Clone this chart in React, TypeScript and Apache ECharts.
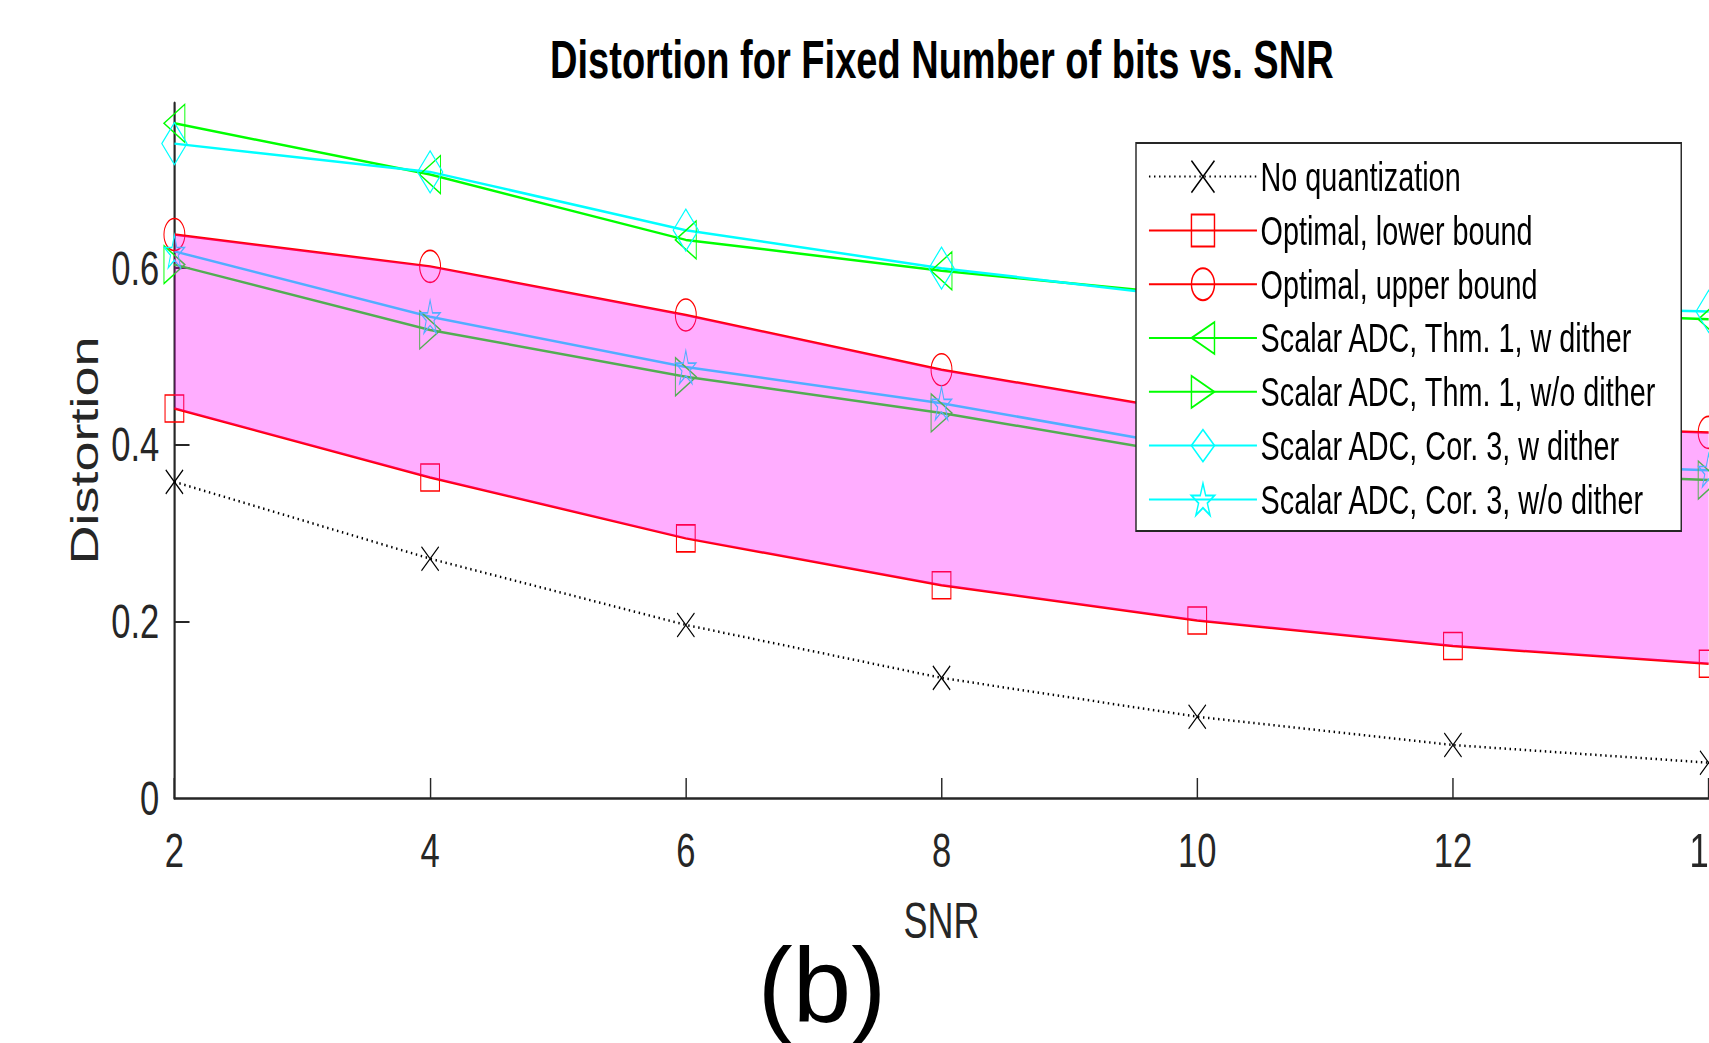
import React, { useEffect, useRef } from 'react';
import * as echarts from 'echarts';

// ---------- data ----------
const snr = ['2', '4', '6', '8', '10', '12', '14'];
const noQuantization = [0.358, 0.271, 0.196, 0.136, 0.092, 0.06, 0.04];
const optimalLower = [0.441, 0.363, 0.294, 0.241, 0.201, 0.172, 0.152];
const optimalUpper = [0.638, 0.602, 0.547, 0.485, 0.436, 0.423, 0.414];
const thm1WithDither = [0.764, 0.706, 0.632, 0.597, 0.569, 0.553, 0.542];
const thm1WithoutDither = [0.604, 0.53, 0.477, 0.436, 0.387, 0.371, 0.36];
const cor3WithDither = [0.741, 0.709, 0.643, 0.6, 0.566, 0.558, 0.551];
const cor3WithoutDither = [0.619, 0.545, 0.488, 0.447, 0.396, 0.381, 0.371];
const yTickValues = [0, 0.2, 0.4, 0.6];
const yTickMarks = [0.2, 0.4, 0.6];

const seriesNames = [
  'No quantization',
  'Optimal, lower bound',
  'Optimal, upper bound',
  'Scalar ADC, Thm. 1, w dither',
  'Scalar ADC, Thm. 1, w/o dither',
  'Scalar ADC, Cor. 3, w dither',
  'Scalar ADC, Cor. 3, w/o dither',
];

// ---------- layout ----------
const FULL_W = 1709;
const FULL_H = 1043;
const SX = 0.72; // the source figure is horizontally condensed
const CHART_W = FULL_W / SX;
const FONT = '"Liberation Sans", Arial, Helvetica, sans-serif';

// marker shapes
const SYM_CROSS = 'path://M0,0L10,10M0,10L10,0';
const SYM_SQUARE = 'path://M0,0L10,0L10,10L0,10Z';
const SYM_ELLIPSE = 'path://M0,5A5,5 0 1,1 10,5A5,5 0 1,1 0,5Z';
const SYM_LEFT = 'path://M0,5L10,0L10,10Z';
const SYM_RIGHT = 'path://M10,5L0,0L0,10Z';
const SYM_DIAMOND = 'path://M5,0L10,5L5,10L0,5Z';
const SYM_STAR =
  'path://M0,-10L2.25,-3.09L9.51,-3.09L3.63,1.18L5.88,8.09L0,3.82L-5.88,8.09L-3.63,1.18L-9.51,-3.09L-2.25,-3.09Z';

function lineSeries(
  name: string,
  data: number[],
  color: string,
  symbol: string,
  size: number[],
  dash?: any
) {
  return {
    name,
    type: 'line',
    data,
    symbol,
    symbolSize: size,
    showAllSymbol: true,
    z: 2,
    lineStyle: { color, width: 2.5, type: dash ?? 'solid' },
    itemStyle: { color: 'rgba(0,0,0,0)', borderColor: color, borderWidth: 1.5 },
    emphasis: { disabled: true },
    silent: true,
  };
}

export default function App() {
  const ref = useRef<HTMLDivElement>(null);

  useEffect(() => {
    if (!ref.current) return;
    const chart = echarts.init(ref.current, null, {
      renderer: 'svg',
      width: CHART_W,
      height: FULL_H,
    });

    const bandHeight = optimalUpper.map((u, i) => u - optimalLower[i]);

    const option: any = {
      animation: false,
      backgroundColor: '#fff',
      textStyle: { fontFamily: FONT },
      title: {
        text: 'Distortion for Fixed Number of bits vs. SNR',
        left: 764,
        top: 33.6,
        padding: 0,
        textStyle: { fontSize: 52.8, fontWeight: 'bold', color: '#000', fontFamily: FONT },
      },
      grid: {
        left: 174.4 / SX,
        right: 0.5,
        top: 103,
        bottom: FULL_H - 798,
        containLabel: false,
        outerBoundsMode: 'none',
      },
      legend: {
        orient: 'vertical',
        left: 1136 / SX,
        top: 143,
        itemWidth: 150,
        itemHeight: 40,
        itemGap: 13.8,
        padding: [13.6, 33, 11.6, 17],
        backgroundColor: '#fff',
        borderColor: '#262626',
        borderWidth: 2,
        selectedMode: false,
        data: seriesNames,
        textStyle: { fontSize: 40, lineHeight: 40, color: '#000', fontFamily: FONT },
      },
      xAxis: {
        type: 'category',
        data: snr,
        boundaryGap: false,
        name: 'SNR',
        nameLocation: 'middle',
        nameGap: 98,
        nameTextStyle: { fontSize: 50, color: '#262626', fontFamily: FONT },
        axisLine: { lineStyle: { color: '#262626', width: 2.5 } },
        axisTick: {
          show: true,
          inside: true,
          length: 20,
          interval: 0,
          lineStyle: { color: '#262626', width: 2 },
        },
        axisLabel: { fontSize: 48, color: '#262626', margin: 28, interval: 0, fontFamily: FONT },
        splitLine: { show: false },
      },
      yAxis: {
        type: 'value',
        min: 0,
        max: 0.787,
        interval: 0.2,
        name: 'Distortion',
        nameLocation: 'middle',
        nameGap: 94,
        nameTextStyle: { fontSize: 54, color: '#262626', fontFamily: FONT },
        axisLine: { show: true, lineStyle: { color: '#262626', width: 3 } },
        axisTick: {
          show: true,
          inside: true,
          length: 21,
          customValues: yTickMarks,
          lineStyle: { color: '#262626', width: 2 },
        },
        axisLabel: {
          fontSize: 48,
          color: '#262626',
          margin: 21,
          customValues: yTickValues,
          fontFamily: FONT,
        },
        splitLine: { show: false },
      },
      series: [
        lineSeries(seriesNames[0], noQuantization, '#000000', SYM_CROSS, [24, 24], [2, 5]),
        lineSeries(seriesNames[1], optimalLower, '#FF0000', SYM_SQUARE, [26, 27]),
        lineSeries(seriesNames[2], optimalUpper, '#FF0000', SYM_ELLIPSE, [29, 32]),
        lineSeries(seriesNames[3], thm1WithDither, '#00FF00', SYM_LEFT, [29, 38]),
        lineSeries(seriesNames[4], thm1WithoutDither, '#00FF00', SYM_RIGHT, [29, 38]),
        lineSeries(seriesNames[5], cor3WithDither, '#00FFFF', SYM_DIAMOND, [35, 42]),
        lineSeries(seriesNames[6], cor3WithoutDither, '#00FFFF', SYM_STAR, [28, 33]),
        {
          name: 'band-base',
          type: 'line',
          data: optimalLower,
          stack: 'band',
          symbol: 'none',
          lineStyle: { width: 0, opacity: 0 },
          z: 3,
          silent: true,
        },
        {
          name: 'band',
          type: 'line',
          data: bandHeight,
          stack: 'band',
          symbol: 'none',
          lineStyle: { width: 0, opacity: 0 },
          areaStyle: { color: '#FF00FF', opacity: 0.32 },
          z: 3,
          silent: true,
        },
      ],
      graphic: [
        {
          type: 'text',
          x: 822 / SX,
          y: 986,
          scaleX: 1 / SX,
          style: {
            text: '(b)',
            fontSize: 105,
            fontFamily: FONT,
            fill: '#000',
            align: 'center',
            verticalAlign: 'middle',
            textAlign: 'center',
            textVerticalAlign: 'middle',
          },
        },
      ],
    };

    chart.setOption(option);
    return () => chart.dispose();
  }, []);

  return (
    <div
      style={{
        position: 'fixed',
        left: 0,
        top: 0,
        width: FULL_W,
        height: FULL_H,
        overflow: 'hidden',
        background: '#fff',
      }}
    >
      <div
        ref={ref}
        style={{
          width: CHART_W,
          height: FULL_H,
          transform: `scaleX(${SX})`,
          transformOrigin: '0 0',
        }}
      />
    </div>
  );
}
